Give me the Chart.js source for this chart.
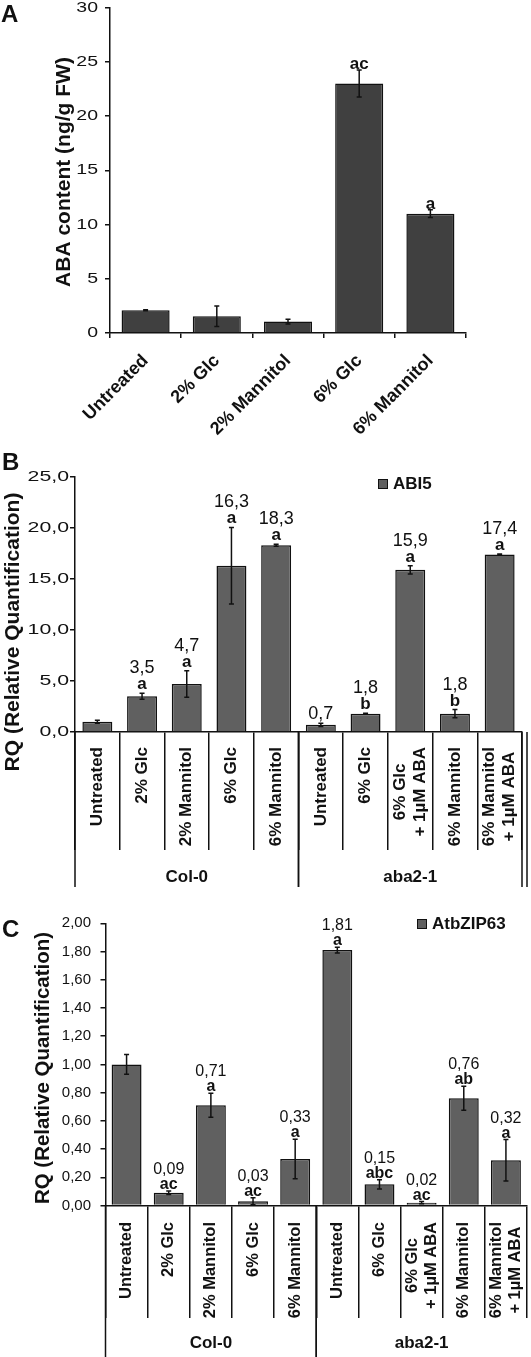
<!DOCTYPE html>
<html>
<head>
<meta charset="utf-8">
<script src="https://cdn.jsdelivr.net/npm/chart.js@4.4.0/dist/chart.umd.min.js"></script>
<style>
html, body { margin: 0; padding: 0; background: #fff; }
body { width: 531px; height: 1357px; position: relative; overflow: hidden; }
.panel { position: absolute; left: 0; width: 531px; }
.panel canvas { display: block; }
</style>
</head>
<body>
<div class="panel" style="top:-20px;height:460px"><canvas id="chartA"></canvas></div>
<div class="panel" style="top:440px;height:450px"><canvas id="chartB"></canvas></div>
<div class="panel" style="top:890px;height:467px"><canvas id="chartC"></canvas></div>
<script>
// Panel A - ABA content
const aCategories = ['Untreated', '2% Glc', '2% Mannitol', '6% Glc', '6% Mannitol'];
const aValues = [2.1, 1.55, 1.05, 23.0, 11.0];
const aErrors = [0.05, 0.95, 0.22, 1.25, 0.35];
const aLetters = ['', '', '', 'ac', 'a'];
const aTicks = [0, 5, 10, 15, 20, 25, 30];

// Panel B - ABI5
const bCategories = ['Untreated', '2% Glc', '2% Mannitol', '6% Glc', '6% Mannitol',
    'Untreated', '6% Glc', ['6% Glc', '+ 1µM ABA'], '6% Mannitol', ['6% Mannitol', '+ 1µM ABA']];
const bValues = [1.0, 3.5, 4.7, 16.3, 18.3, 0.7, 1.8, 15.9, 1.8, 17.4];
const bErrors = [0.15, 0.3, 1.3, 3.75, 0.1, 0.15, 0.05, 0.4, 0.4, 0.05];
const bLetters = ['', 'a', 'a', 'a', 'a', '', 'b', 'a', 'b', 'a'];
const bShowValue = [false, true, true, true, true, true, true, true, true, true];
const bTicks = [0, 5, 10, 15, 20, 25];

// Panel C - AtbZIP63
const cCategories = bCategories;
const cValues = [1.00, 0.09, 0.71, 0.03, 0.33, 1.81, 0.15, 0.02, 0.76, 0.32];
const cErrors = [0.07, 0.012, 0.085, 0.025, 0.14, 0.02, 0.033, 0.008, 0.085, 0.147];
const cLetters = ['', 'ac', 'a', 'ac', 'a', 'a', 'abc', 'ac', 'ab', 'a'];
const cShowValue = [false, true, true, true, true, true, true, true, true, true];
const cTicks = [0, 0.2, 0.4, 0.6, 0.8, 1.0, 1.2, 1.4, 1.6, 1.8, 2.0];

const groups = [{ label: 'Col-0', from: 0, to: 4 }, { label: 'aba2-1', from: 5, to: 9 }];

const FONT = "'Liberation Sans', Arial, sans-serif";
const INK = '#111111';
const comma = (v, d) => v.toFixed(d).replace('.', ',');

// error bars, letters, labels, dividers and titles
const panelPlugin = {
    id: 'panel',
    afterDatasetsDraw(chart, args, o) {
        const ctx = chart.ctx;
        const ys = chart.scales.y;
        const meta = chart.getDatasetMeta(0);
        const values = chart.data.datasets[0].data;
        ctx.save();
        ctx.strokeStyle = INK;
        ctx.fillStyle = INK;
        ctx.lineWidth = 1.5;
        meta.data.forEach((bar, i) => {
            const v = values[i], e = o.errors[i];
            const top = ys.getPixelForValue(v + e);
            const bot = ys.getPixelForValue(v - e);
            ctx.beginPath();
            ctx.moveTo(bar.x, top); ctx.lineTo(bar.x, bot);
            ctx.moveTo(bar.x - 2.5, top); ctx.lineTo(bar.x + 2.5, top);
            ctx.moveTo(bar.x - 2.5, bot); ctx.lineTo(bar.x + 2.5, bot);
            ctx.stroke();

            let base = top - o.letterGap;
            ctx.textAlign = 'center';
            ctx.textBaseline = 'alphabetic';
            if (o.letters[i]) {
                ctx.font = `bold ${o.letterSize}px ${FONT}`;
                ctx.fillText(o.letters[i], bar.x, base);
                base -= o.valueGap;
            }
            if (o.showValue && o.showValue[i]) {
                ctx.font = `${o.valueSize}px ${FONT}`;
                ctx.fillText(comma(v, o.decimals), bar.x, base);
            }
        });
        ctx.restore();
    },
    afterDraw(chart, args, o) {
        const ctx = chart.ctx;
        const xs = chart.scales.x, ys = chart.scales.y;
        const area = chart.chartArea;
        ctx.save();
        ctx.fillStyle = INK;
        ctx.strokeStyle = INK;

        // y tick labels (slightly stretched like the original figure)
        ctx.font = `${o.tickSize}px ${FONT}`;
        ctx.textBaseline = 'middle';
        ctx.textAlign = 'right';
        ys.ticks.forEach((t, i) => {
            ctx.save();
            ctx.translate(o.tickRight, ys.getPixelForTick(i));
            ctx.scale(o.tickStretch, 1);
            ctx.fillText(comma(t.value, o.decimals), 0, 0);
            ctx.restore();
        });

        // y title
        ctx.save();
        ctx.translate(o.title.x, o.title.y);
        ctx.rotate(-Math.PI / 2);
        ctx.font = `bold ${o.title.size}px ${FONT}`;
        ctx.textAlign = 'center';
        ctx.textBaseline = 'middle';
        ctx.fillText(o.title.text, 0, 0);
        ctx.restore();

        // panel letter
        ctx.font = `bold 24px ${FONT}`;
        ctx.textAlign = 'left';
        ctx.textBaseline = 'alphabetic';
        ctx.fillText(o.letter.text, o.letter.x, o.letter.y);

        // legend
        if (o.legend) {
            const lg = o.legend;
            ctx.fillStyle = chart.data.datasets[0].backgroundColor;
            ctx.fillRect(lg.x, lg.y, 10, 10);
            ctx.lineWidth = 1;
            ctx.strokeRect(lg.x + 0.5, lg.y + 0.5, 9, 9);
            ctx.fillStyle = INK;
            ctx.font = `bold 17px ${FONT}`;
            ctx.fillText(lg.text, lg.x + 15, lg.y + 10);
        }

        // slanted category labels (panel A)
        if (o.slanted) {
            const sl = o.slanted;
            ctx.font = `bold ${sl.size}px ${FONT}`;
            ctx.textAlign = 'right';
            ctx.textBaseline = 'middle';
            chart.data.labels.forEach((lab, i) => {
                ctx.save();
                ctx.translate(xs.getPixelForValue(i) + sl.dx, area.bottom + sl.offset);
                ctx.rotate(-Math.PI / 4);
                ctx.fillText(lab, 0, 0);
                ctx.restore();
            });
        }

        // vertical category labels
        if (o.vlabels) {
            const vl = o.vlabels;
            ctx.font = `bold ${vl.size}px ${FONT}`;
            ctx.textBaseline = 'middle';
            ctx.textAlign = 'center';
            chart.data.labels.forEach((lab, i) => {
                const lines = Array.isArray(lab) ? lab : [lab];
                const w = Math.max(...lines.map(l => ctx.measureText(l).width));
                ctx.save();
                ctx.translate(xs.getPixelForValue(i), area.bottom + vl.offset);
                ctx.rotate(-Math.PI / 2);
                lines.forEach((l, k) => {
                    ctx.fillText(l, -w / 2, (k - (lines.length - 1) / 2) * vl.lineGap);
                });
                ctx.restore();
            });
        }

        // group lines and labels
        if (o.groups) {
            const g = o.groups;
            const half = xs.width / chart.data.labels.length / 2;
            ctx.lineWidth = 1.5;
            ctx.font = `bold 17px ${FONT}`;
            ctx.textAlign = 'center';
            ctx.textBaseline = 'middle';
            groups.forEach((gr, gi) => {
                const l = xs.getPixelForValue(gr.from) - half;
                const r = xs.getPixelForValue(gr.to) + half;
                ctx.beginPath();
                ctx.moveTo(l, area.bottom); ctx.lineTo(l, g.lineBottom);
                if (!(g.openEnd && gi === groups.length - 1)) {
                    ctx.moveTo(r, area.bottom); ctx.lineTo(r, g.lineBottom);
                }
                ctx.stroke();
                ctx.fillText(gr.label, (l + r) / 2, g.labelY);
            });
            if (g.extra) {
                ctx.beginPath();
                ctx.moveTo(area.right + g.extra, area.bottom);
                ctx.lineTo(area.right + g.extra, g.lineBottom);
                ctx.stroke();
            }
        }
        ctx.restore();
    }
};

function makeChart(id, cfg) {
    return new Chart(document.getElementById(id), {
        type: 'bar',
        data: {
            labels: cfg.labels,
            datasets: [{
                data: cfg.values,
                backgroundColor: cfg.color,
                borderColor: INK,
                borderWidth: 1.5,
                barPercentage: cfg.barPct,
                categoryPercentage: 1.0
            }]
        },
        options: {
            responsive: true,
            maintainAspectRatio: false,
            animation: false,
            layout: { padding: cfg.padding },
            plugins: {
                legend: { display: false },
                tooltip: { enabled: false },
                panel: cfg.panel
            },
            scales: {
                x: {
                    grid: {
                        drawOnChartArea: false,
                        drawTicks: true,
                        tickLength: cfg.xTickLength,
                        color: INK,
                        lineWidth: 1.5
                    },
                    border: { display: true, color: INK, width: 1.5 },
                    ticks: { display: false },
                    afterFit: s => { s.height = cfg.xHeight; }
                },
                y: {
                    min: cfg.yTicks[0],
                    max: cfg.yTicks[cfg.yTicks.length - 1],
                    grid: {
                        drawOnChartArea: false,
                        drawTicks: true,
                        tickLength: 5,
                        color: INK,
                        lineWidth: 1.5
                    },
                    border: { display: true, color: INK, width: 1.5 },
                    ticks: { display: false, stepSize: cfg.yTicks[1] - cfg.yTicks[0] },
                    afterFit: s => { s.width = cfg.yWidth; }
                }
            }
        },
        plugins: [panelPlugin]
    });
}

makeChart('chartA', {
    labels: aCategories,
    values: aValues,
    color: '#404040',
    barPct: 0.675,
    yTicks: aTicks,
    padding: { top: 27.5, right: 65, left: 0, bottom: 0 },
    yWidth: 110,
    xHeight: 107,
    xTickLength: 5,
    panel: {
        errors: aErrors, letters: aLetters, showValue: null,
        letterSize: 17, valueSize: 17, letterGap: 1, valueGap: 16, decimals: 0,
        tickSize: 15, tickStretch: 1.3, tickRight: 98,
        title: { text: 'ABA content (ng/g FW)', x: 64, y: 192, size: 21 },
        letter: { text: 'A', x: 1, y: 42 },
        slanted: { size: 18, dx: 0, offset: 25 }
    }
});

makeChart('chartB', {
    labels: bCategories,
    values: bValues,
    color: '#606060',
    barPct: 0.67,
    yTicks: bTicks,
    padding: { top: 37, right: 9, left: 0, bottom: 0 },
    yWidth: 75,
    xHeight: 158,
    xTickLength: 118,
    panel: {
        errors: bErrors, letters: bLetters, showValue: bShowValue,
        letterSize: 17, valueSize: 18, letterGap: 4, valueGap: 16, decimals: 1,
        tickSize: 15, tickStretch: 1.42, tickRight: 69,
        title: { text: 'RQ (Relative Quantification)', x: 13, y: 192, size: 21 },
        letter: { text: 'B', x: 2, y: 30 },
        legend: { text: 'ABI5', x: 378, y: 39 },
        vlabels: { size: 17, offset: 15, lineGap: 20 },
        groups: { lineBottom: 447, labelY: 437, extra: 5, openEnd: false }
    }
});

makeChart('chartC', {
    labels: cCategories,
    values: cValues,
    color: '#606060',
    barPct: 0.71,
    yTicks: cTicks,
    padding: { top: 33.3, right: 4, left: 0, bottom: 0 },
    yWidth: 105.5,
    xHeight: 151.5,
    xTickLength: 112.5,
    panel: {
        errors: cErrors, letters: cLetters, showValue: cShowValue,
        letterSize: 16, valueSize: 16, letterGap: 2, valueGap: 15, decimals: 2,
        tickSize: 15, tickStretch: 1.0, tickRight: 91,
        title: { text: 'RQ (Relative Quantification)', x: 43.5, y: 178, size: 20.5 },
        letter: { text: 'C', x: 2, y: 47 },
        legend: { text: 'AtbZIP63', x: 417, y: 29 },
        vlabels: { size: 16.5, offset: 16.5, lineGap: 19 },
        groups: { lineBottom: 467, labelY: 453, extra: 0, openEnd: true }
    }
});
</script>
</body>
</html>
